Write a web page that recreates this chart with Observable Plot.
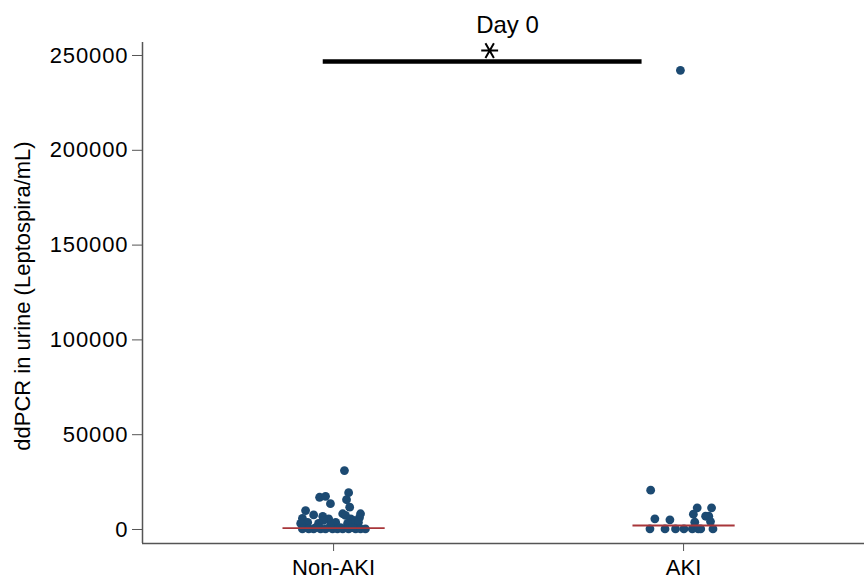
<!DOCTYPE html>
<html>
<head>
<meta charset="utf-8">
<script src="https://cdn.jsdelivr.net/npm/d3@7"></script>
<script src="https://cdn.jsdelivr.net/npm/@observablehq/plot@0.6"></script>
<style>
  html, body { margin: 0; padding: 0; background: #fff; }
  #chart g[aria-label="y-axis tick label"] text { letter-spacing: 0.9px; }
</style>
</head>
<body>
<div id="chart"></div>
<script>
// Categories
const categories = ["Non-AKI", "AKI"];
const title = "Day 0";
const yLabel = "ddPCR in urine (Leptospira/mL)";
const yTicks = [0, 50000, 100000, 150000, 200000, 250000];

// Non-AKI values and horizontal jitter (category units)
const nonAkiValues = [31100, 19400, 17000, 17500, 15700, 13600, 11800, 10000, 8300, 7400,
  8300, 7700, 6900, 5900, 6300, 5600, 5600, 4800, 4800, 3700,
  3700, 3700, 3200, 3200, 2100, 3200, 1000, 300, 300, 300,
  300, 300, 300, 300, 300, 300, 300, 300, 300, 1000, 1000, 1000];
const nonAkiJitter = [0.031, 0.043, -0.040, -0.023, 0.037, -0.009, 0.046, -0.080, 0.026, 0.034,
  0.077, -0.057, -0.031, -0.089, 0.074, -0.014, 0.049, 0.057, -0.029, -0.074,
  0.006, 0.071, -0.094, -0.043, -0.009, 0.040, -0.086, -0.089, -0.071, -0.057,
  -0.037, -0.023, -0.003, 0.011, 0.026, 0.043, 0.063, 0.077, 0.091, -0.051, 0.020, 0.054];

// AKI values and jitter
const akiValues = [242200, 20750, 5630, 370, 5100, 300, 300, 300, 300, 11450,
  8100, 3850, 300, 300, 7000, 7000, 11450, 4200, 300];
const akiJitter = [-0.009, -0.094, -0.082, -0.096, -0.039, -0.053, -0.023, 0.001, 0.025, 0.039,
  0.028, 0.032, 0.042, 0.049, 0.063, 0.072, 0.080, 0.077, 0.084];

// Medians
const medians = [700, 2100];

// Significance bracket
const sigFrom = 0, sigTo = 1, sigY = 246800, sigMarkY = 252600;

// Build table
const points = [
  ...nonAkiValues.map((v, i) => ({group: 0, value: v, j: nonAkiJitter[i]})),
  ...akiValues.map((v, i) => ({group: 1, value: v, j: akiJitter[i]}))
];
const medianRows = medians.map((m, i) => ({group: i, value: m}));

const xDomain = [-0.546, 1.517];
const yDomain = [-7384, 256856];
const halfWidth = 0.146;

const chart = Plot.plot({
  width: 864,
  height: 581,
  marginTop: 42,
  marginBottom: 38,
  marginLeft: 142,
  marginRight: 0,
  style: {fontFamily: "Liberation Sans, Arial, sans-serif", fontSize: "21px", color: "#000", background: "#fff"},
  x: {type: "linear", domain: xDomain},
  y: {domain: yDomain},
  marks: [
    Plot.axisY({ticks: yTicks, tickSize: 10, tickPadding: 4, label: null, tickFormat: d => String(d), stroke: "#555", fontSize: 22}),
    Plot.axisX({ticks: [0, 1], tickSize: 8, tickPadding: 8, label: null, tickFormat: d => categories[d], stroke: "#555", fontSize: 22}),
    Plot.ruleX([xDomain[0]], {stroke: "#555", strokeWidth: 1.5}),
    Plot.ruleY([yDomain[0]], {stroke: "#555", strokeWidth: 1.5}),
    Plot.text([yLabel], {frameAnchor: "left", textAnchor: "middle", rotate: -90, dx: -120, dy: 3, fontSize: 22, fill: "#000"}),
    Plot.text([title], {frameAnchor: "top", dx: 4, dy: -27, fontSize: 24, fill: "#000"}),
    Plot.dot(points, {x: d => d.group + d.j, y: "value", r: 4.4, fill: "#1c4a72", stroke: "none"}),
    Plot.link(medianRows, {x1: d => d.group - halfWidth, x2: d => d.group + halfWidth, y1: "value", y2: "value", stroke: "#a8363a", strokeWidth: 1.8}),
    Plot.link([{y: sigY}], {x1: () => sigFrom - 0.031, x2: () => sigTo - 0.12, y1: "y", y2: "y", stroke: "#000", strokeWidth: 4.5}),
    Plot.dot([{y: sigMarkY}], {x: () => (sigFrom + sigTo) / 2 - 0.054, y: "y", symbol: "asterisk", r: 8, stroke: "#000", strokeWidth: 2, rotate: 90})
  ]
});
document.getElementById("chart").appendChild(chart);
</script>
</body>
</html>
